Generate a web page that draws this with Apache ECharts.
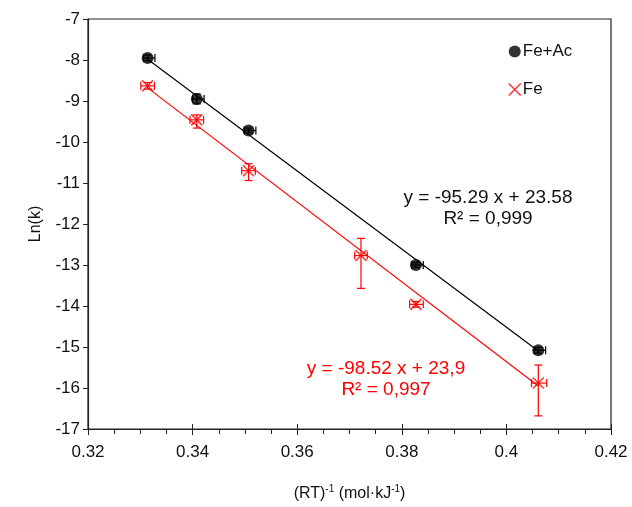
<!DOCTYPE html>
<html>
<head>
<meta charset="utf-8">
<script src="https://cdn.jsdelivr.net/npm/echarts@6/dist/echarts.min.js"></script>
<style>
  html, body { margin: 0; padding: 0; background: #fff; }
  #chart { width: 632px; height: 507px; }
</style>
</head>
<body>
<div id="chart"></div>
<script>
// x = (RT)^-1, y = Ln(k), with error bars (plus / minus)
const feAcX = [0.3314, 0.3408, 0.3507, 0.3827, 0.4061];
const feAcY = [-7.95, -8.95, -9.72, -13.00, -15.08];
const feAcYPlus = [0.07, 0.12, 0.06, 0.06, 0.07];
const feAcYMinus = [0.07, 0.12, 0.06, 0.06, 0.07];
const feAcXPlus = [0.0014, 0.0014, 0.0014, 0.0014, 0.0014];
const feAcXMinus = [0.0008, 0.0008, 0.0008, 0.0008, 0.0008];

const feX = [0.3314, 0.3408, 0.3507, 0.3722, 0.3827, 0.4061];
const feY = [-8.63, -9.46, -10.70, -12.77, -13.96, -15.88];
const feYPlus = [0.08, 0.12, 0.17, 0.42, 0.07, 0.44];
const feYMinus = [0.08, 0.2, 0.24, 0.80, 0.07, 0.80];
const feXPlus = [0.0013, 0.0013, 0.0013, 0.0012, 0.0014, 0.0016];
const feXMinus = [0.0013, 0.0013, 0.0013, 0.0012, 0.0012, 0.0013];

// trendline end points
const feAcLine = [[0.3314, -7.98], [0.4061, -15.10]];
const feLine = [[0.3314, -8.68], [0.4061, -15.95]];

const xTicks = [0.32, 0.34, 0.36, 0.38, 0.4, 0.42];
const yMin = -17, yMax = -7;

const xMark = 'path://M0,0L10,10M10,0L0,10';
const font = 'Liberation Sans';

const zip = (xs, ys, xp, xm, yp, ym) => xs.map((x, i) => [x, ys[i], xp[i], xm[i], yp[i], ym[i]]);

function errorBars(color) {
  return function (params, api) {
    const x = api.value(0), y = api.value(1);
    const xp = api.value(2), xm = api.value(3), yp = api.value(4), ym = api.value(5);
    const top = api.coord([x, y + yp]);
    const bot = api.coord([x, y - ym]);
    const lft = api.coord([x - xm, y]);
    const rgt = api.coord([x + xp, y]);
    const cap = 4;
    const style = { stroke: color, lineWidth: 1.2 };
    const ln = (x1, y1, x2, y2) => ({ type: 'line', shape: { x1, y1, x2, y2 }, style });
    return {
      type: 'group',
      children: [
        ln(top[0], top[1], bot[0], bot[1]),
        ln(top[0] - cap, top[1], top[0] + cap, top[1]),
        ln(bot[0] - cap, bot[1], bot[0] + cap, bot[1]),
        ln(lft[0], lft[1], rgt[0], rgt[1]),
        ln(lft[0], lft[1] - cap, lft[0], lft[1] + cap),
        ln(rgt[0], rgt[1] - cap, rgt[0], rgt[1] + cap)
      ]
    };
  };
}

const myChart = echarts.init(document.getElementById('chart'));

const axisBase = {
  type: 'value',
  min: 0.32,
  max: 0.42,
  interval: 0.02
};

const option = {
  backgroundColor: '#fff',
  animation: false,
  textStyle: { fontFamily: font },
  grid: {
    left: 88, right: 21, top: 19, bottom: 76,
    show: true, borderColor: '#222', borderWidth: 1.2
  },
  legend: {
    orient: 'vertical',
    left: 503,
    top: 38,
    itemWidth: 12,
    itemHeight: 12,
    itemGap: 21,
    textStyle: { fontSize: 17, color: '#111', fontFamily: font, padding: [0, 0, 0, -3] },
    data: [
      { name: 'Fe+Ac', icon: 'circle', itemStyle: { color: '#000' } },
      { name: 'Fe', icon: xMark, itemStyle: { color: 'transparent', borderColor: '#ff0000', borderWidth: 1.5 } }
    ]
  },
  xAxis: [
    {
      ...axisBase,
      name: '{a|(RT)}{s|-1}{a| (mol·kJ}{s|-1}{a|)}',
      nameLocation: 'middle',
      nameGap: 55,
      nameTextStyle: {
        rich: {
          a: { fontSize: 16, color: '#111', fontFamily: font, lineHeight: 20 },
          s: { fontSize: 10, color: '#111', fontFamily: font, lineHeight: 20, verticalAlign: 'top' }
        }
      },
      axisLine: { lineStyle: { color: '#222', width: 1.2 } },
      axisTick: { show: true, length: 6, lineStyle: { color: '#222' } },
      minorTick: { show: true, splitNumber: 4, length: 5, lineStyle: { color: '#222' } },
      axisLabel: {
        fontSize: 17, color: '#111', margin: 15, fontFamily: font,
        customValues: xTicks,
        formatter: v => String(+v.toFixed(2))
      },
      splitLine: { show: false }
    },
    {
      ...axisBase,
      gridIndex: 0,
      position: 'bottom',
      axisLine: { show: false },
      axisTick: { show: true, inside: true, length: 5, lineStyle: { color: '#222' } },
      axisLabel: { show: false },
      splitLine: { show: false }
    }
  ],
  yAxis: {
    type: 'value',
    min: yMin,
    max: yMax,
    interval: 1,
    name: 'Ln(k)',
    nameLocation: 'middle',
    nameGap: 44,
    nameTextStyle: { fontSize: 16, color: '#111', fontFamily: font },
    axisLine: { show: true, lineStyle: { color: '#222', width: 1.2 } },
    axisTick: { show: true, length: 5, lineStyle: { color: '#222' } },
    axisLabel: { fontSize: 17, color: '#111', margin: 8, fontFamily: font },
    splitLine: { show: false }
  },
  graphic: [
    {
      type: 'text', x: 488, y: 208,
      style: {
        text: 'y = -95.29 x + 23.58\nR² = 0,999',
        fill: '#111', font: '19px "Liberation Sans"',
        align: 'center', verticalAlign: 'middle', lineHeight: 21
      }
    },
    {
      type: 'text', x: 386, y: 379,
      style: {
        text: 'y = -98.52 x + 23,9\nR² = 0,997',
        fill: '#ff0000', font: '19px "Liberation Sans"',
        align: 'center', verticalAlign: 'middle', lineHeight: 21
      }
    }
  ],
  series: [
    {
      name: 'feAcTrend', type: 'line', data: feAcLine, showSymbol: false, silent: true,
      lineStyle: { color: '#000', width: 1.2 }, z: 1
    },
    {
      name: 'feTrend', type: 'line', data: feLine, showSymbol: false, silent: true,
      lineStyle: { color: '#ff0000', width: 1.2 }, z: 1
    },
    {
      name: 'feAcErr', type: 'custom',
      data: zip(feAcX, feAcY, feAcXPlus, feAcXMinus, feAcYPlus, feAcYMinus),
      renderItem: errorBars('#000'), z: 2
    },
    {
      name: 'feErr', type: 'custom',
      data: zip(feX, feY, feXPlus, feXMinus, feYPlus, feYMinus),
      renderItem: errorBars('#ff0000'), z: 2
    },
    {
      name: 'Fe+Ac', type: 'scatter', data: feAcX.map((x, i) => [x, feAcY[i]]),
      symbol: 'circle', symbolSize: 12, itemStyle: { color: '#000' }, z: 3
    },
    {
      name: 'Fe', type: 'scatter', data: feX.map((x, i) => [x, feY[i]]),
      symbol: xMark, symbolSize: 11,
      itemStyle: { color: 'transparent', borderColor: '#ff0000', borderWidth: 1.5 }, z: 3
    }
  ]
};

myChart.setOption(option);
</script>
</body>
</html>
